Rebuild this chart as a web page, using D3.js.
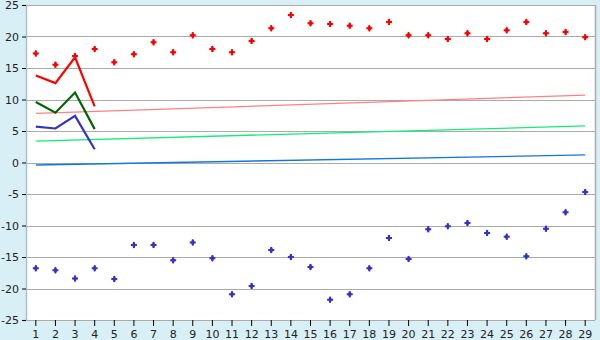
<!DOCTYPE html>
<html><head><meta charset="utf-8">
<script src="https://cdn.jsdelivr.net/npm/d3@7"></script>
<style>body{margin:0;background:#d9eff6;}svg{display:block;}</style>
</head><body><svg id="c" width="600" height="340"></svg>
<script>
const categories = d3.range(1, 30);
const redPoints = [17.3,15.5,16.9,18.0,15.9,17.2,19.1,17.5,20.2,18.0,17.5,19.3,21.3,23.4,22.1,22.0,21.7,21.3,22.3,20.2,20.2,19.6,20.5,19.6,21.0,22.3,20.5,20.7,19.9];
const bluePoints = [-16.8,-17.1,-18.4,-16.8,-18.5,-13.1,-13.1,-15.5,-12.7,-15.2,-20.9,-19.6,-13.9,-15.0,-16.6,-21.8,-20.9,-16.8,-12.0,-15.3,-10.6,-10.1,-9.6,-11.2,-11.8,-14.9,-10.5,-7.9,-4.7];
const lineCats = [1,2,3,4];
const redLine = [13.8,12.6,16.7,8.9];
const greenLine = [9.6,7.9,11.1,5.3];
const blueLine = [5.7,5.4,7.4,2.1];
const trendCats = [1,29];
const redTrend = [7.8,10.7];
const greenTrend = [3.4,5.8];
const blueTrend = [-0.4,1.2];
const yTicks = [-25,-20,-15,-10,-5,0,5,10,15,20,25];

const svg = d3.select('#c');
const L = 26, R = 595, T = 5, B = 320;
const x = d3.scaleBand().domain(categories).range([L, R]);
const xc = c => x(c) + x.bandwidth() / 2;
const y = d3.scaleLinear().domain([-25, 25]).range([B, T]);

svg.append('rect').attr('x', L).attr('y', T).attr('width', R - L).attr('height', B - T).attr('fill', '#fff');

// grid
svg.append('g').selectAll('line').data(yTicks).join('line')
  .attr('x1', L).attr('x2', R).attr('y1', d => Math.round(y(d)) + 0.5).attr('y2', d => Math.round(y(d)) + 0.5)
  .attr('stroke', '#aaaaaa').attr('stroke-width', 1.2);
// right border
svg.append('line').attr('x1', R + 0.5).attr('x2', R + 0.5).attr('y1', T).attr('y2', B).attr('stroke', '#aaaaaa').attr('stroke-width', 1.5);

// y axis
const ya = svg.append('g').attr('transform', `translate(${L},0)`)
  .call(d3.axisLeft(y).tickValues(yTicks).tickSize(4).tickPadding(3).tickFormat(d => String(d).replace('\u2212','-')));
ya.select('.domain').attr('stroke', '#aabfcc').attr('stroke-width', 1.5);
ya.selectAll('.tick line').attr('stroke', '#000');
ya.selectAll('text').attr('font-family', 'DejaVu Sans').attr('font-size', 11).attr('fill', '#222');

// x axis
const xa = svg.append('g').attr('transform', `translate(0,${B})`)
  .call(d3.axisBottom(x).tickSize(6).tickPadding(4));
xa.select('.domain').remove();
xa.selectAll('.tick line').attr('stroke', '#000');
xa.selectAll('text').attr('font-family', 'DejaVu Sans').attr('font-size', 11).attr('fill', '#222');

// trend lines
const trendLine = d3.line().x((d, i) => xc(trendCats[i])).y(d => y(d));
[[redTrend, '#ff8080'], [greenTrend, '#11ee77'], [blueTrend, '#1177dd']].forEach(([v, c]) => {
  svg.append('path').attr('d', trendLine(v)).attr('fill', 'none').attr('stroke', c).attr('stroke-width', 1.3);
});

// short lines
const sl = d3.line().x((d, i) => xc(lineCats[i])).y(d => y(d));
[[redLine, '#ff0000'], [greenLine, '#006600'], [blueLine, '#3333cc']].forEach(([v, c]) => {
  svg.append('path').attr('d', sl(v)).attr('fill', 'none').attr('stroke', c).attr('stroke-width', 2.2).attr('stroke-linejoin', 'miter');
});

// markers
const sym = d3.symbol().type(d3.symbolCross).size(20);
const dia = d3.symbol().type(d3.symbolDiamond).size(14);
function markers(vals, color) {
  const g = svg.append('g');
  g.selectAll('path.a').data(vals).join('path').attr('class', 'a')
    .attr('transform', (d, i) => `translate(${xc(categories[i])},${y(d)})`).attr('d', sym).attr('fill', color);
  g.selectAll('path.b').data(vals).join('path').attr('class', 'b')
    .attr('transform', (d, i) => `translate(${xc(categories[i])},${y(d)})`).attr('d', dia).attr('fill', color);
}
markers(redPoints, '#ff0000');
markers(bluePoints, '#3333cc');
</script></body></html>
